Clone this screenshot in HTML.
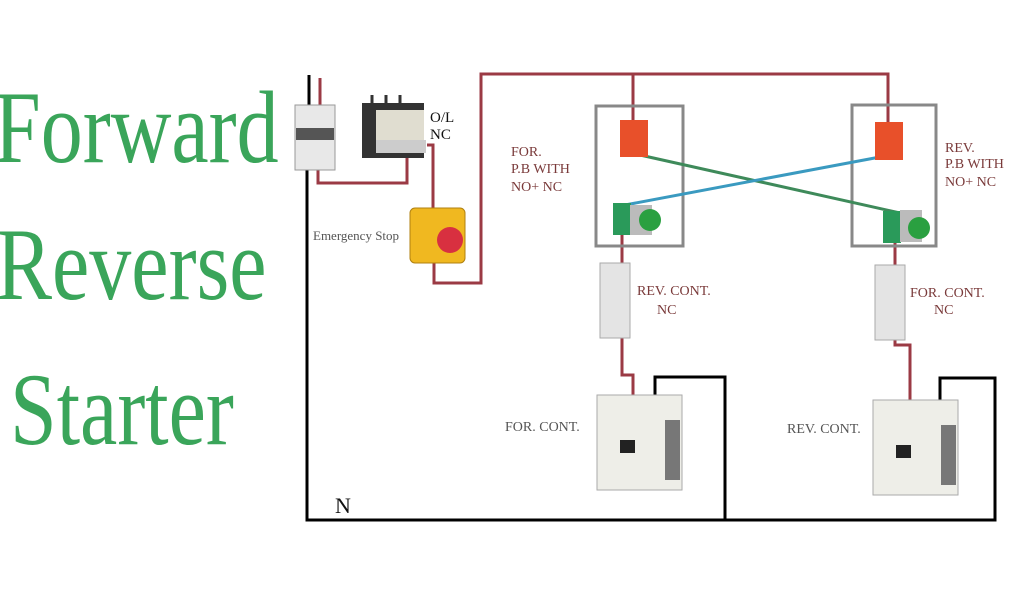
<!DOCTYPE html>
<html><head><style>
body{margin:0;background:#fff;width:1024px;height:600px;overflow:hidden;position:relative}
.t{position:absolute;font-family:"Liberation Serif",serif;color:#3aa55a;font-size:84px;transform-origin:0 0;transform:scaleY(1.22);line-height:1;white-space:nowrap}
</style></head><body>
<div class="t" style="left:-6px;top:78px">Forward</div>
<div class="t" style="left:-4px;top:215px">Reverse</div>
<div class="t" style="left:10px;top:360px">Starter</div>
<svg width="1024" height="600" style="position:absolute;left:0;top:0" font-family="Liberation Serif, serif">
<g fill="none" stroke="#9b3a44" stroke-width="3">
<polyline points="434,262 434,283 481,283 481,74 888,74 888,125"/>
<line x1="633" y1="74" x2="633" y2="122"/>
<polyline points="318,170 318,183 407,183 407,150"/>
<polyline points="427,145 433,145 433,210"/>
<polyline points="320,78 320,105"/>
<polyline points="622,235 622,375 633,375 633,398"/>
<polyline points="895,240 895,345 910,345 910,405"/>
</g>
<g fill="none" stroke="#000" stroke-width="3">
<line x1="309" y1="75" x2="309" y2="105"/>
<polyline points="307,170 307,520 995,520 995,378 940,378 940,408"/>
<polyline points="725,520 725,377 655,377 655,397"/>
</g>
<rect x="596" y="106" width="87" height="140" fill="none" stroke="#888" stroke-width="3"/>
<rect x="852" y="105" width="84" height="141" fill="none" stroke="#888" stroke-width="3"/>
<line x1="640" y1="155" x2="900" y2="213" stroke="#3e8a5a" stroke-width="3"/>
<line x1="880" y1="157" x2="625" y2="205" stroke="#3a9ac0" stroke-width="3"/>
<rect x="295" y="105" width="40" height="65" fill="#e8e8e8" stroke="#999"/>
<rect x="296" y="128" width="38" height="12" fill="#555"/>
<rect x="362" y="103" width="62" height="55" fill="#333"/>
<rect x="376" y="110" width="48" height="35" fill="#e0ddd0"/>
<rect x="376" y="140" width="50" height="13" fill="#ccc"/>
<line x1="372" y1="95" x2="372" y2="104" stroke="#333" stroke-width="3"/>
<line x1="386" y1="95" x2="386" y2="104" stroke="#333" stroke-width="3"/>
<line x1="400" y1="95" x2="400" y2="104" stroke="#333" stroke-width="3"/>
<rect x="410" y="208" width="55" height="55" rx="5" fill="#f0b820" stroke="#b08010"/>
<circle cx="450" cy="240" r="13" fill="#d83040"/>
<rect x="620" y="120" width="28" height="37" fill="#e8502a"/>
<rect x="875" y="122" width="28" height="38" fill="#e8502a"/>
<rect x="613" y="203" width="18" height="32" fill="#2a9a5a"/>
<rect x="630" y="205" width="22" height="30" fill="#bbb"/>
<circle cx="650" cy="220" r="11" fill="#2aa040"/>
<rect x="883" y="211" width="18" height="32" fill="#2a9a5a"/>
<rect x="900" y="210" width="22" height="32" fill="#bbb"/>
<circle cx="919" cy="228" r="11" fill="#2aa040"/>
<rect x="600" y="263" width="30" height="75" fill="#e4e4e4" stroke="#aaa"/>
<rect x="875" y="265" width="30" height="75" fill="#e4e4e4" stroke="#aaa"/>
<g fill="#eeeee8" stroke="#aaa">
<rect x="597" y="395" width="85" height="95"/><rect x="873" y="400" width="85" height="95"/>
</g>
<rect x="620" y="440" width="15" height="13" fill="#222"/>
<rect x="896" y="445" width="15" height="13" fill="#222"/>
<rect x="665" y="420" width="15" height="60" fill="#777"/>
<rect x="941" y="425" width="15" height="60" fill="#777"/>
<g fill="#7a3a3a" font-size="14">
<text x="511" y="156">FOR.</text><text x="511" y="173">P.B WITH</text><text x="511" y="191">NO+ NC</text>
<text x="945" y="152">REV.</text><text x="945" y="168">P.B WITH</text><text x="945" y="186">NO+ NC</text>
<text x="637" y="295">REV. CONT.</text><text x="657" y="314">NC</text>
<text x="910" y="297">FOR. CONT.</text><text x="934" y="314">NC</text>
</g>
<g fill="#555" font-size="14">
<text x="505" y="431">FOR. CONT.</text><text x="787" y="433">REV. CONT.</text>
<text x="313" y="240" font-size="13">Emergency Stop</text>
</g>
<text x="430" y="122" font-size="15" fill="#111">O/L</text>
<text x="430" y="139" font-size="15" fill="#111">NC</text>
<text x="335" y="513" font-size="22" fill="#111">N</text>
</svg>
</body></html>
